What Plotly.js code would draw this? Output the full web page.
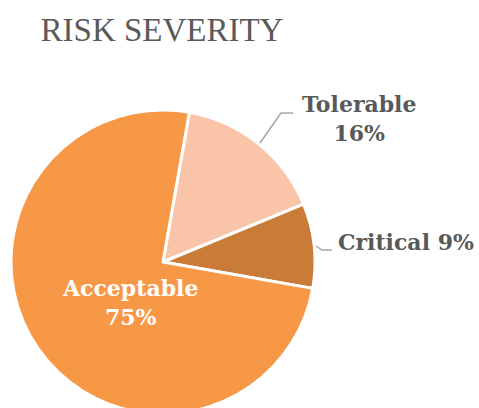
<!DOCTYPE html>
<html><head><meta charset="utf-8">
<script src="https://cdn.plot.ly/plotly-3.0.1.min.js"></script>
<style>html,body{margin:0;padding:0;overflow:hidden;background:#fff;}#chart{width:479px;height:416px;}</style>
</head><body><div id="chart"></div>
<script>
const categories = ['Tolerable', 'Critical', 'Acceptable'];
const shares = [16, 9, 75];
const sliceColors = ['#F9C4A8', '#C97B38', '#F79847'];

const W = 479, H = 416;
const px = x => x / W;
const py = y => 1 - y / H;

const total = shares.reduce((a, b) => a + b, 0);
const pct = v => Math.round(v / total * 100) + '%';

const serif = 'DejaVu Serif';
const lblFont = {family: serif, size: 22, color: '#595959'};

const annotations = [
  {text: '<b>' + categories[0] + '</b><br><b>' + pct(shares[0]) + '</b>', x: px(359), y: py(118), font: lblFont},
  {text: '<b>' + categories[1] + ' ' + pct(shares[1]) + '</b>', x: px(406), y: py(242), font: lblFont},
  {text: '<b>' + categories[2] + '</b><br><b>' + pct(shares[2]) + '</b>', x: px(130), y: py(302), font: Object.assign({}, lblFont, {color: '#ffffff'})}
].map(a => Object.assign({xref: 'paper', yref: 'paper', showarrow: false, xanchor: 'center', yanchor: 'middle', align: 'center'}, a));

const lineStyle = {color: '#A6A6A6', width: 1.5};
const shapes = [
  {type: 'path', xref: 'paper', yref: 'paper', line: lineStyle,
   path: `M ${px(260)} ${py(143)} L ${px(281)} ${py(113)} L ${px(293)} ${py(113)}`},
  {type: 'path', xref: 'paper', yref: 'paper', line: lineStyle,
   path: `M ${px(316)} ${py(246)} L ${px(322)} ${py(250)} L ${px(332)} ${py(250)}`}
];

const trace = {
  type: 'pie',
  labels: categories,
  values: shares,
  sort: false,
  direction: 'clockwise',
  rotation: 10,
  textinfo: 'none',
  hoverinfo: 'label+percent',
  marker: {colors: sliceColors, line: {color: '#ffffff', width: 3}},
  domain: {x: [px(11), px(315)], y: [py(414), py(110)]},
  showlegend: false
};

Plotly.newPlot('chart', [trace], {
  width: W, height: H,
  margin: {l: 0, r: 0, t: 0, b: 0},
  paper_bgcolor: '#ffffff',
  title: {text: 'RISK SEVERITY', x: px(162), xanchor: 'center', xref: 'paper', y: 1 - 29 / H, yref: 'container', yanchor: 'middle',
          font: {family: 'Liberation Serif', size: 33, color: '#595959'}},
  annotations: annotations,
  shapes: shapes
}, {displayModeBar: false, staticPlot: true});
</script></body></html>
